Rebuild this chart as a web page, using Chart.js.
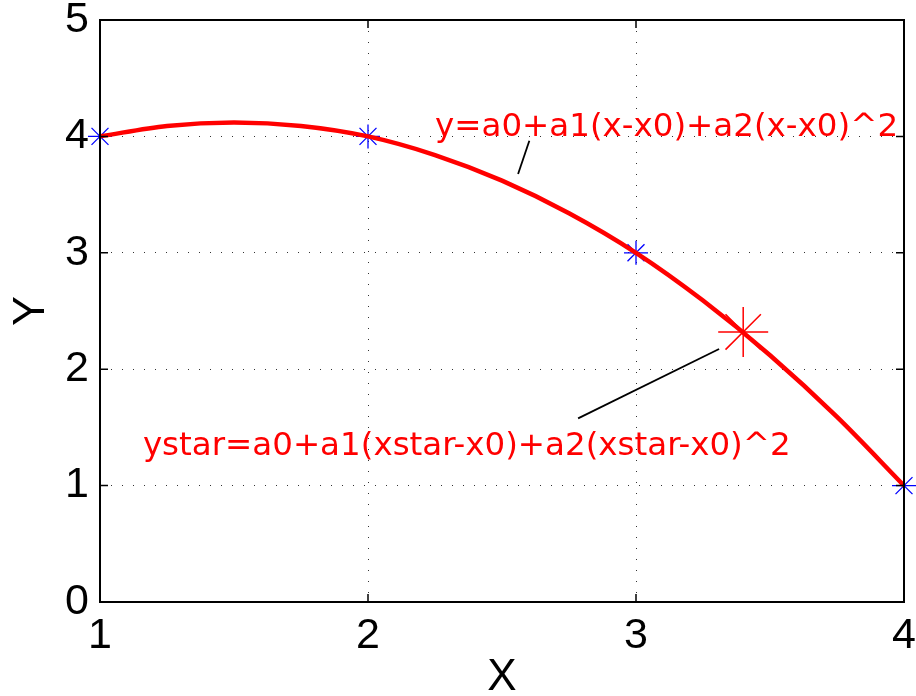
<!DOCTYPE html>
<html><head><meta charset="utf-8">
<script src="https://cdn.jsdelivr.net/npm/chart.js@4.4.1/dist/chart.umd.min.js"></script>
<style>html,body{margin:0;padding:0;background:#fff;overflow:hidden}</style>
</head><body>
<canvas id="c" width="916" height="696"></canvas>
<script>
// ---- data ----
const curveX = [1, 1.25, 1.5, 1.75, 2, 2.25, 2.5, 2.75, 3, 3.25, 3.5, 3.75, 4];
const curveY = [4, 4.09, 4.12, 4.09, 4, 3.84, 3.62, 3.34, 3, 2.59, 2.12, 1.59, 1];
const nodeX = [1, 2, 3, 4];
const nodeY = [4, 4, 3, 1];
const starX = [3.4];
const starY = [2.32];
const xTicks = [1, 2, 3, 4];
const yTicks = [0, 1, 2, 3, 4, 5];
const xTitle = 'X';
const yTitle = 'Y';
const curveText = 'y=a0+a1(x-x0)+a2(x-x0)^2';
const starText = 'ystar=a0+a1(xstar-x0)+a2(xstar-x0)^2';
const curveTextAt = [2.25, 4.0];
const starTextAt = [1.16, 1.263];
const curveLeaderX = [2.56, 2.602];
const curveLeaderY = [3.677, 3.963];
const starLeaderX = [2.784, 3.31];
const starLeaderY = [1.578, 2.174];

const pts = (xs, ys) => xs.map((v, i) => ({x: v, y: ys[i]}));

const boxPlugin = {
  id: 'box',
  afterDatasetsDraw(chart) {
    const {ctx, scales: {x, y}} = chart;
    ctx.save();
    ctx.fillStyle = '#ff0000';
    ctx.font = '32.5px "DejaVu Sans"';
    ctx.textBaseline = 'alphabetic';
    ctx.textAlign = 'left';
    ctx.fillText(curveText, x.getPixelForValue(curveTextAt[0]), y.getPixelForValue(curveTextAt[1]));
    ctx.fillText(starText, x.getPixelForValue(starTextAt[0]), y.getPixelForValue(starTextAt[1]));
    ctx.restore();
  },
  afterDraw(chart) {
    const {ctx, chartArea: a, scales: {x, y}} = chart;
    ctx.save();
    ctx.strokeStyle = '#000';
    ctx.lineWidth = 1.5;
    ctx.beginPath();
    x.ticks.forEach(t => {
      const px = x.getPixelForValue(t.value);
      ctx.moveTo(px, a.bottom); ctx.lineTo(px, a.bottom - 8);
      ctx.moveTo(px, a.top); ctx.lineTo(px, a.top + 8);
    });
    y.ticks.forEach(t => {
      const py = y.getPixelForValue(t.value);
      ctx.moveTo(a.left, py); ctx.lineTo(a.left + 8, py);
      ctx.moveTo(a.right, py); ctx.lineTo(a.right - 8, py);
    });
    ctx.stroke();
    ctx.lineWidth = 2;
    ctx.strokeRect(a.left, a.top, a.right - a.left, a.bottom - a.top);
    ctx.restore();
  }
};

new Chart(document.getElementById('c'), {
  type: 'scatter',
  data: {
    datasets: [
      {
        data: pts(curveX, curveY), showLine: true, borderColor: '#ff0000', borderWidth: 4.5,
        pointRadius: 0, cubicInterpolationMode: 'monotone', fill: false
      },
      {
        data: pts(nodeX, nodeY), showLine: false, pointStyle: 'star', pointRadius: 12,
        borderColor: '#0000ff', backgroundColor: '#0000ff', pointBorderWidth: 1.3, clip: false
      },
      {
        data: pts(starX, starY), showLine: false, pointStyle: 'star', pointRadius: 25,
        borderColor: '#ff0000', backgroundColor: '#ff0000', pointBorderWidth: 1.5, clip: false
      },
      {
        data: pts(curveLeaderX, curveLeaderY), showLine: true, borderColor: '#000', borderWidth: 1.8,
        pointRadius: 0
      },
      {
        data: pts(starLeaderX, starLeaderY), showLine: true, borderColor: '#000', borderWidth: 1.8,
        pointRadius: 0
      }
    ]
  },
  options: {
    responsive: false,
    animation: false,
    devicePixelRatio: 1,
    layout: {autoPadding: false, padding: {left: 0, top: 20, right: 12, bottom: 0}},
    plugins: {legend: {display: false}, tooltip: {enabled: false}},
    scales: {
      x: {
        type: 'linear', min: 1, max: 4,
        afterBuildTicks: s => { s.ticks = xTicks.map(v => ({value: v})); },
        afterFit: s => { s.height = 94; s.paddingLeft = 0; s.paddingRight = 0; s.paddingTop = 0; s.paddingBottom = 0; },
        ticks: {color: '#000', padding: 8, font: {family: '"Liberation Sans", Arial', size: 43}},
        grid: {color: 'rgba(0,0,0,0.8)', lineWidth: 1, drawTicks: false},
        border: {display: false, dash: [1, 10]},
        title: {display: true, text: xTitle, color: '#000', padding: {top: 0, bottom: 0},
          font: {family: '"Liberation Sans", Arial', size: 44, lineHeight: 0.82}}
      },
      y: {
        type: 'linear', min: 0, max: 5,
        afterBuildTicks: s => { s.ticks = yTicks.map(v => ({value: v})); },
        afterFit: s => { s.width = 100; s.paddingTop = 0; s.paddingBottom = 0; s.paddingLeft = 0; s.paddingRight = 0; },
        ticks: {color: '#000', padding: 11, font: {family: '"Liberation Sans", Arial', size: 43}},
        grid: {color: 'rgba(0,0,0,0.8)', lineWidth: 1, drawTicks: false},
        border: {display: false, dash: [1, 10]},
        title: {display: true, text: yTitle, color: '#000', padding: {top: 5, bottom: 0},
          font: {family: '"Liberation Sans", Arial', size: 45}}
      }
    }
  },
  plugins: [boxPlugin]
});
</script>
</body></html>
